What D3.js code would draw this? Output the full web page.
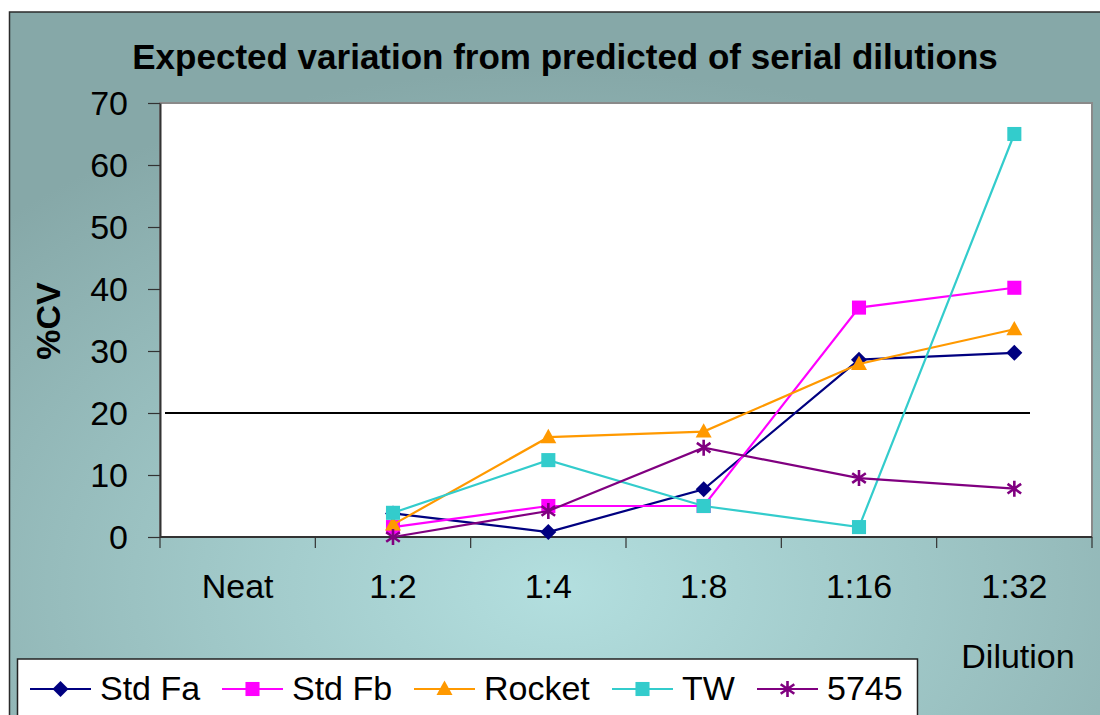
<!DOCTYPE html>
<html><head><meta charset="utf-8">
<script src="https://cdn.jsdelivr.net/npm/d3@7"></script>
<style>html,body{margin:0;padding:0;background:#fff;}svg{display:block;font-family:"Liberation Sans",Arial,sans-serif;}</style>
</head><body>
<svg id="c" width="1100" height="715"></svg>
<script>
const categories = ["Neat","1:2","1:4","1:8","1:16","1:32"];
const seriesNames = ["Std Fa","Std Fb","Rocket","TW","5745"];
const stdFa  = [null, 3.8, 0.8, 7.7, 28.6, 29.7];
const stdFb  = [null, 1.6, 5.0, 5.0, 37.0, 40.2];
const rocket = [null, 2.0, 16.1, 17.0, 27.9, 33.5];
const tw     = [null, 3.9, 12.4, 5.0, 1.6, 65.0];
const s5745  = [null, 0.0, 4.2, 14.4, 9.5, 7.8];
const yTicks = [0,10,20,30,40,50,60,70];
const limitValue = 20;
const title = "Expected variation from predicted of serial dilutions";
const yTitle = "%CV";
const xTitle = "Dilution";

const colors = ["#000080","#ff00ff","#ff9900","#33cccc","#800080"];
const symbols = ["diamond","square","triangle","square","star"];
const allSeries = [stdFa, stdFb, rocket, tw, s5745].map((v,i)=>({name:seriesNames[i], values:v, color:colors[i], sym:symbols[i]}));

const svg = d3.select("#c");
const defs = svg.append("defs");
const g = defs.append("radialGradient").attr("id","bg")
  .attr("cx","0.5").attr("cy","0.8").attr("r","0.72").attr("fx","0.5").attr("fy","0.8");
g.append("stop").attr("offset","0").attr("stop-color","#b3dfdf");
g.append("stop").attr("offset","0.45").attr("stop-color","#9fc7c7");
g.append("stop").attr("offset","1").attr("stop-color","#86a8a8");

svg.append("rect").attr("x",9.5).attr("y",12).attr("width",1100).attr("height",720)
  .attr("fill","url(#bg)").attr("stroke","#2b2b2b").attr("stroke-width",1.5);

const L=160, R=1092, T=103, B=537;
const x = d3.scaleBand().domain(categories).range([L,R]).padding(0);
const y = d3.scaleLinear().domain([0,70]).range([B,T]);

svg.append("rect").attr("x",L).attr("y",T).attr("width",R-L).attr("height",B-T)
  .attr("fill","#fff").attr("stroke","#8a8a8a").attr("stroke-width",2);

// title
svg.append("text").attr("x",565).attr("y",69).attr("text-anchor","middle")
  .attr("font-weight","bold").attr("font-size",35).text(title);

// y axis
const yAxis = d3.axisLeft(y).tickValues(yTicks).tickSize(12).tickPadding(20).tickSizeOuter(0);
const ya = svg.append("g").attr("transform",`translate(${L},0)`).call(yAxis);
ya.select(".domain").attr("stroke","#333").attr("stroke-width",2);
ya.selectAll(".tick line").attr("stroke","#333").attr("stroke-width",1.2);
ya.selectAll(".tick text").attr("font-size",34).attr("fill","#000")
  .attr("font-family","Liberation Sans, Arial, sans-serif").attr("dy","0.35em");

// x axis: ticks at category boundaries
const xa = svg.append("g").attr("transform",`translate(0,${B})`);
xa.append("line").attr("x1",L).attr("x2",R).attr("y1",0).attr("y2",0).attr("stroke","#333").attr("stroke-width",2);
const bounds = categories.map(c=>x(c)).concat([R]);
xa.selectAll("line.tk").data(bounds).join("line").attr("class","tk")
  .attr("x1",d=>d).attr("x2",d=>d).attr("y1",0).attr("y2",11).attr("stroke","#333").attr("stroke-width",1.2);
xa.selectAll("text").data(categories).join("text")
  .attr("x",d=>x(d)+x.bandwidth()/2).attr("y",61).attr("text-anchor","middle")
  .attr("font-size",34).text(d=>d);

// axis titles
svg.append("text").attr("transform","translate(60,321) rotate(-90)").attr("text-anchor","middle")
  .attr("font-weight","bold").attr("font-size",34).text(yTitle);
svg.append("text").attr("x",1018).attr("y",668).attr("text-anchor","middle")
  .attr("font-size",34).text(xTitle);

// 20% limit line
svg.append("line").attr("x1",L+5).attr("x2",1030).attr("y1",y(limitValue)).attr("y2",y(limitValue))
  .attr("stroke","#000").attr("stroke-width",2);

function marker(sel, sym, color, size){
  const r=size/2;
  if(sym==="star"){
    const p = d3.path();
    p.moveTo(0,-r);p.lineTo(0,r);
    p.moveTo(-r*0.85,-r*0.6);p.lineTo(r*0.85,r*0.6);
    p.moveTo(r*0.85,-r*0.6);p.lineTo(-r*0.85,r*0.6);
    sel.append("path").attr("d",p.toString()).attr("stroke",color).attr("stroke-width",2.6).attr("fill","none");
  } else if(sym==="diamond"){
    sel.append("path").attr("d",`M0,${-r}L${r},0L0,${r}L${-r},0Z`).attr("fill",color);
  } else if(sym==="square"){
    const h=r*0.88;
    sel.append("path").attr("d",`M${-h},${-h}H${h}V${h}H${-h}Z`).attr("fill",color);
  } else {
    sel.append("path").attr("d",`M0,${-r*1.05}L${r},${r*0.75}L${-r},${r*0.75}Z`).attr("fill",color);
  }
}

const line = d3.line().defined(d=>d.v!==null).x(d=>x(d.c)+x.bandwidth()/2).y(d=>y(d.v));
allSeries.forEach(s=>{
  const pts = s.values.map((v,i)=>({c:categories[i], v}));
  const gs = svg.append("g");
  gs.append("path").attr("d",line(pts)).attr("fill","none").attr("stroke",s.color).attr("stroke-width",2.2);
  pts.filter(d=>d.v!==null).forEach(d=>{
    const m = gs.append("g").attr("transform",`translate(${x(d.c)+x.bandwidth()/2},${y(d.v)})`);
    marker(m, s.sym, s.color, 16);
  });
});

// legend
const lg = svg.append("g");
lg.append("rect").attr("x",17.5).attr("y",659).attr("width",900).attr("height",80)
  .attr("fill","#fff").attr("stroke","#222").attr("stroke-width",1.5);
const itemX = [30, 222, 414, 612, 757];
allSeries.forEach((s,i)=>{
  const gi = lg.append("g").attr("transform",`translate(${itemX[i]},689)`);
  gi.append("line").attr("x1",0).attr("x2",61).attr("stroke",s.color).attr("stroke-width",2.2);
  const m = gi.append("g").attr("transform","translate(30.5,0)");
  marker(m, s.sym, s.color, 16);
  gi.append("text").attr("x",70).attr("y",11).attr("font-size",34).text(s.name);
});
</script>
</body></html>
